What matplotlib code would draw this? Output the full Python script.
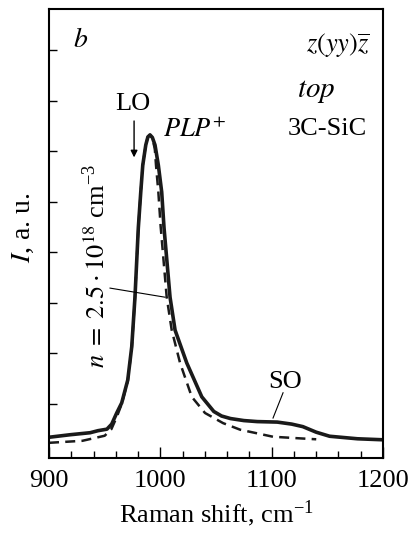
import matplotlib
matplotlib.use("Agg")
import matplotlib.pyplot as plt

plt.rcParams['font.family'] = 'serif'
plt.rcParams['font.serif'] = ['Liberation Serif', 'DejaVu Serif']
plt.rcParams['mathtext.fontset'] = 'stix'

# experimental spectrum (solid)
shift_exp = [900, 919, 937, 944, 952, 956.3, 960.8, 965.3, 970.7, 974.3, 977.2, 980.2,
             982.4, 984.2, 986.9, 988.8, 990.7, 992.8, 995.2, 998.2, 1001.2, 1003.3,
             1008.7, 1013.2, 1023.7, 1037.2, 1048, 1055, 1063, 1075, 1087, 1105, 1118,
             1128, 1140, 1152, 1177, 1200]
int_exp = [0.34, 0.39, 0.43, 0.47, 0.50, 0.60, 0.82, 1.02, 1.47, 2.13, 3.11, 4.48,
           5.19, 5.72, 6.12, 6.28, 6.32, 6.27, 6.12, 5.72, 5.19, 4.48,
           3.11, 2.46, 1.81, 1.14, 0.85, 0.76, 0.71, 0.67, 0.65, 0.64, 0.60,
           0.55, 0.44, 0.36, 0.31, 0.29]

# calculated line shape (dashed)
shift_calc = [900, 930, 950, 956, 961, 965.3, 970.7, 974.3, 977.2, 980.2, 982.4, 984.2,
              986.9, 988.8, 990.7, 992.8, 995, 996.1, 998.2, 1000.3, 1005.7, 1010.2,
              1017.7, 1028.2, 1040.1, 1056.3, 1071.6, 1101.2, 1131.7, 1140]
int_calc = [0.23, 0.27, 0.37, 0.50, 0.75, 1.0, 1.45, 2.1, 3.1, 4.48, 5.19, 5.72,
            6.12, 6.28, 6.32, 6.25, 6.05, 5.72, 5.19, 4.5, 3.11, 2.46,
            1.81, 1.14, 0.82, 0.62, 0.49, 0.35, 0.31, 0.30]

fig = plt.figure(figsize=(4.14, 5.42), dpi=100)
ax = fig.add_axes([0.1184, 0.1550, 0.8068, 0.8284])

ax.plot(shift_exp, int_exp, color='#1a1a1a', lw=2.6)
ax.plot(shift_calc, int_calc, color='#1a1a1a', lw=1.8, ls=(0, (4, 2.5)))

ax.set_xlim(900, 1200)
ax.set_ylim(-0.07, 8.81)
ax.set_xticks([900, 1000, 1100, 1200])
ax.set_xticks(range(920, 1200, 20), minor=True)
ax.set_yticks(range(1, 9))
ax.set_yticklabels([])
ax.tick_params(axis='x', which='major', direction='in', length=8, width=1, labelsize=19, pad=9)
ax.tick_params(axis='x', which='minor', direction='in', length=5, width=1)
ax.tick_params(axis='y', direction='in', length=6, width=1)
for s in ax.spines.values():
    s.set_linewidth(1.5)

ax.set_xlabel('Raman shift, cm$^{\\mathregular{-1}}$', fontsize=19, labelpad=4)
fig.text(23 / 414, 1 - 228 / 542, '$I$, a. u.', rotation=90, fontsize=20,
         ha='center', va='center')

ax.text(921.6, 8.06, '$b$', fontsize=20, ha='left', va='baseline')
ax.text(1188.3, 7.96, '$z(yy)\\overline{z}$', fontsize=19, ha='right', va='baseline')
ax.text(1140, 7.07, '$top$', fontsize=21, ha='center', va='baseline')
ax.text(1149.7, 6.32, '3C-SiC', fontsize=19, ha='center', va='baseline')
ax.text(975.5, 6.81, 'LO', fontsize=19, ha='center', va='baseline')
ax.annotate('', xy=(976.4, 5.82), xytext=(976.4, 6.65),
            arrowprops=dict(arrowstyle='-|>', color='black', lw=1, mutation_scale=10))
ax.text(1002.4, 6.28, '$PLP^{+}$', fontsize=19, ha='left', va='baseline')

ax.text(942.2, 3.73, '$n\\;=\\;2.5\\cdot10^{18}$ cm$^{\\mathregular{-3}}$', fontsize=19,
        rotation=90, ha='center', va='center')
ax.plot([954.8, 1004.2], [3.29, 3.11], color='black', lw=0.8)

ax.text(1112, 1.32, 'SO', fontsize=19, ha='center', va='baseline')
ax.plot([1110.2, 1101.2], [1.22, 0.72], color='black', lw=0.8)

fig.savefig('out.png', dpi=100)
